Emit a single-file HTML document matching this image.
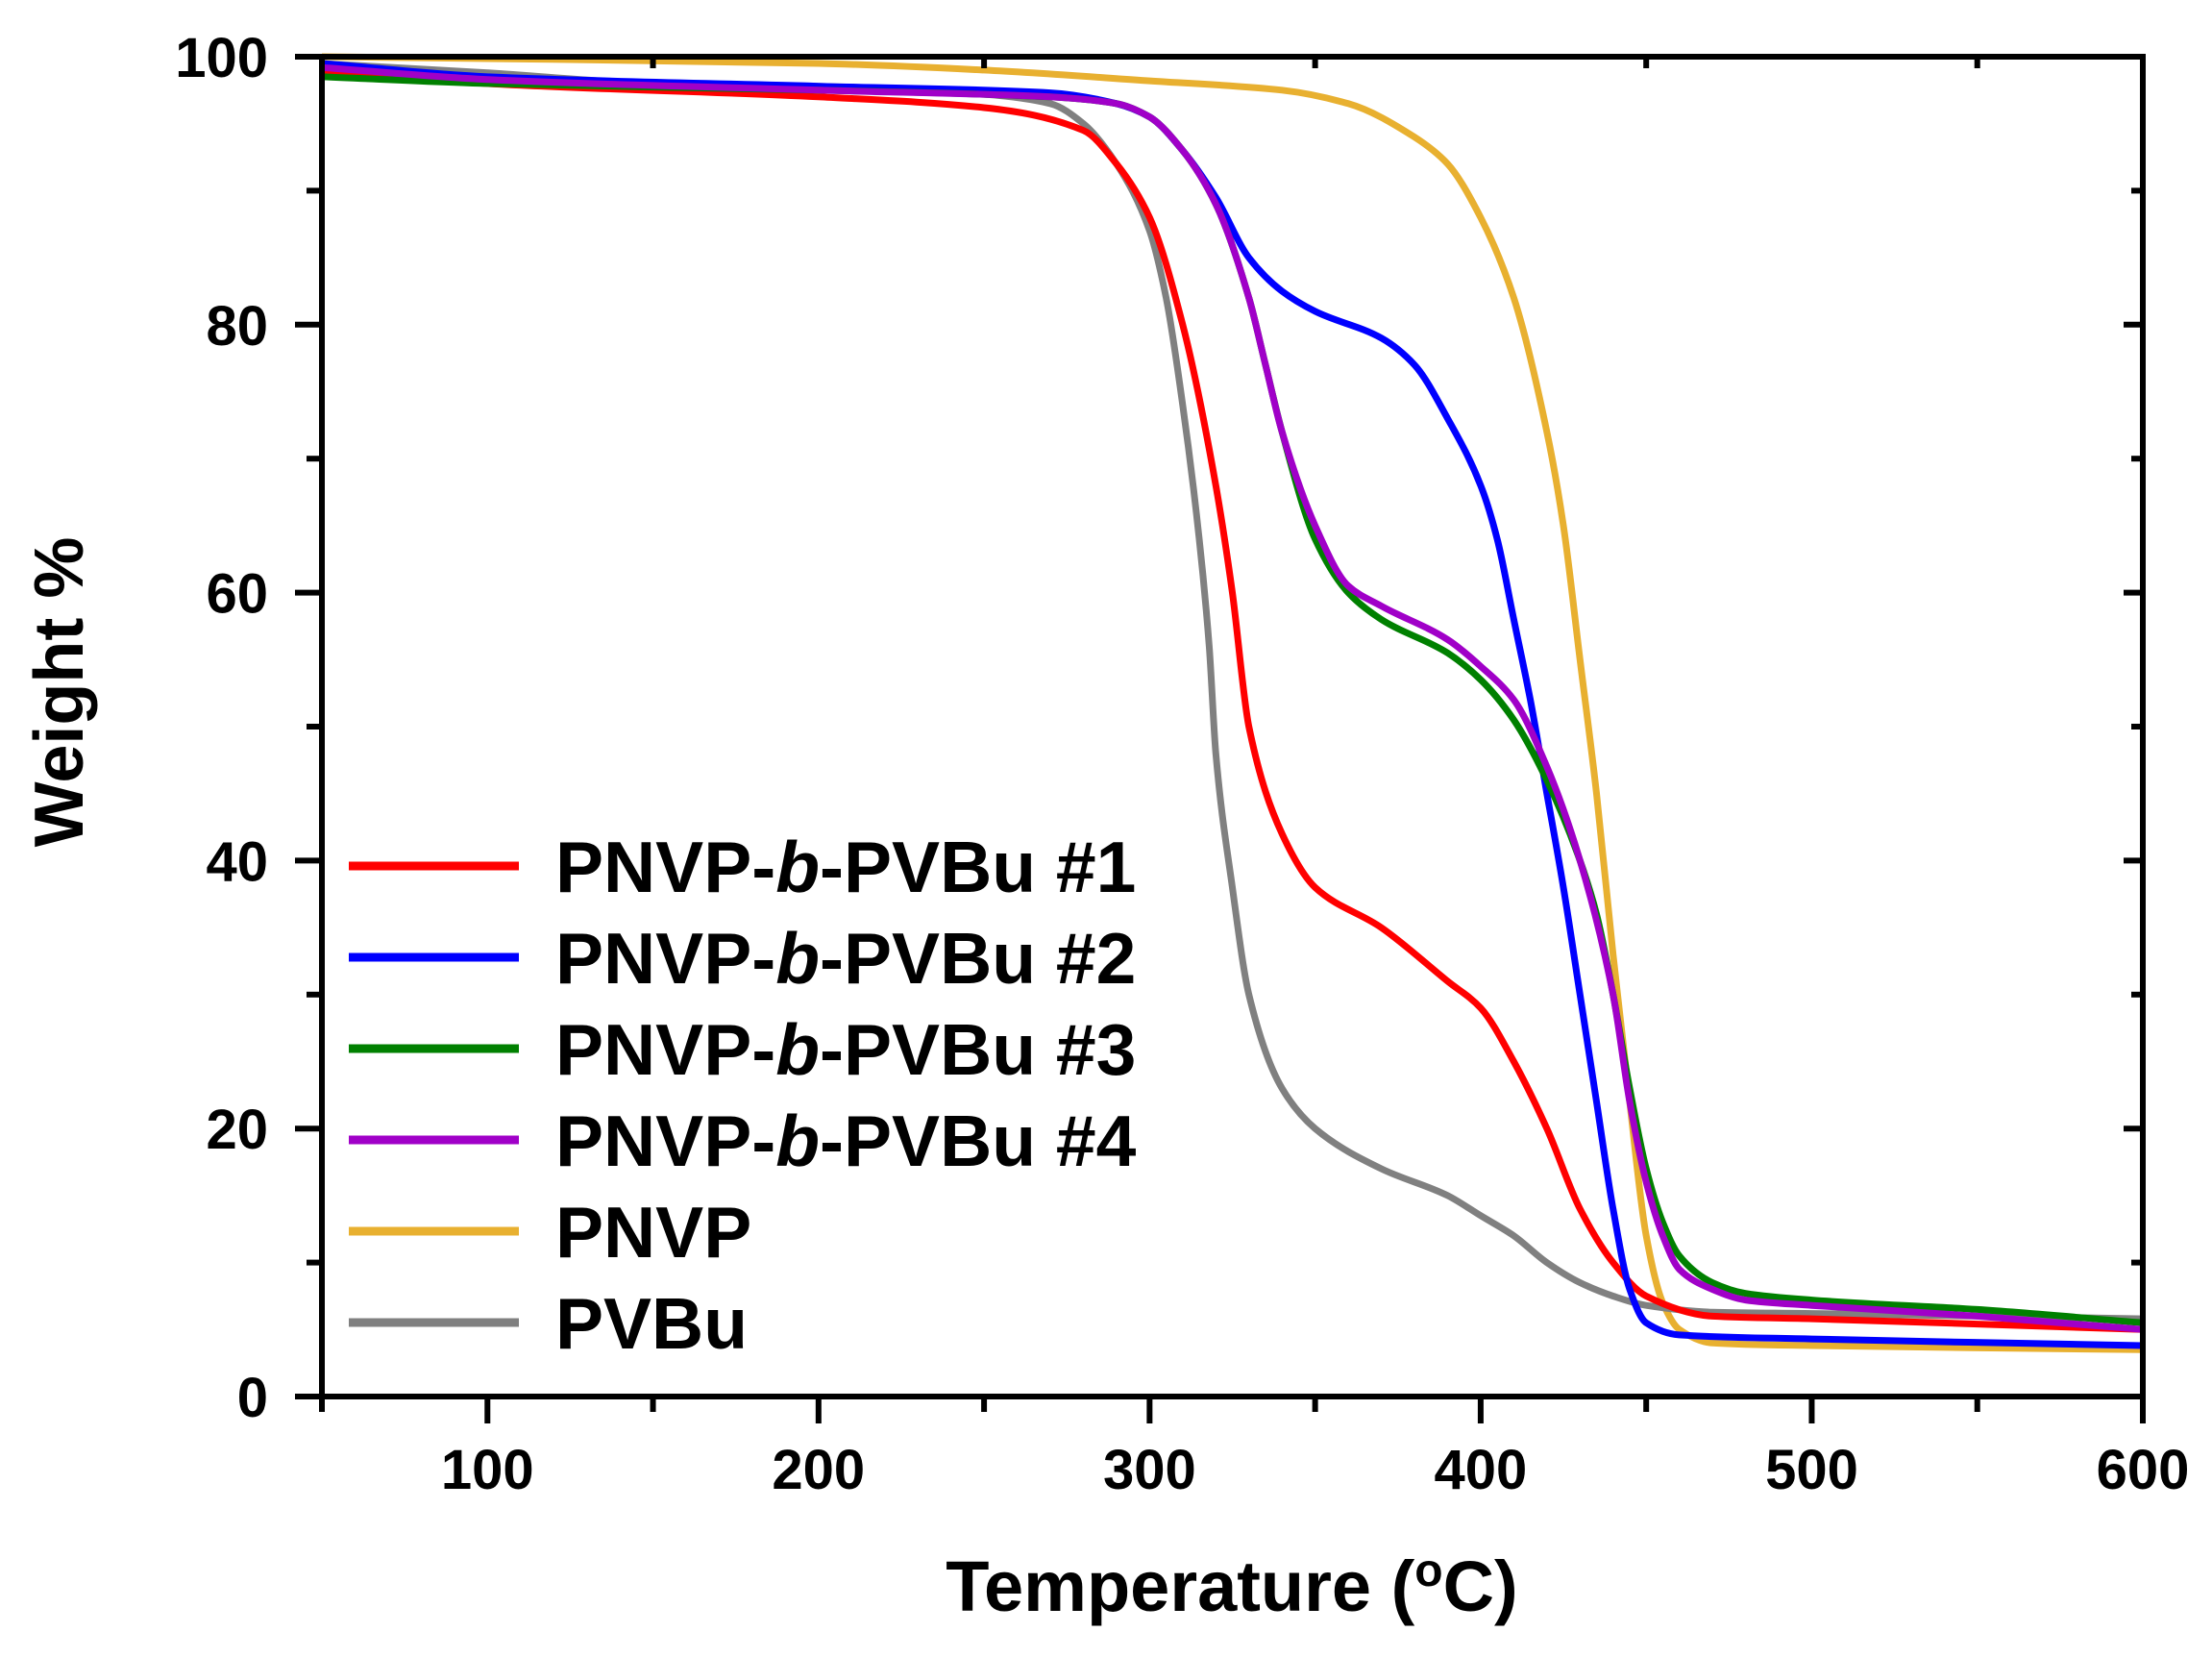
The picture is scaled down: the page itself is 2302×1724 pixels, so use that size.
<!DOCTYPE html>
<html><head><meta charset="utf-8"><style>
html,body{margin:0;padding:0;background:#fff;}
svg{display:block;font-family:"Liberation Sans",Arial,sans-serif;}
</style></head><body>
<svg id="chart" width="2302" height="1724" viewBox="0 0 2302 1724">
<g id="series"></g>
<g id="axes"></g>
<g id="legend"></g>
<text x="1282" y="1676" font-size="74" font-weight="bold" text-anchor="middle">Temperature (<tspan baseline-shift="super" font-size="48">o</tspan>C)</text>
<text transform="translate(86,720) rotate(-90)" font-size="72" font-weight="bold" text-anchor="middle">Weight %</text>
</svg>
<script>
const xTicks=[100,200,300,400,500,600];
const yTicks=[0,20,40,60,80,100];
const seriesNames=["PNVP-b-PVBu #1","PNVP-b-PVBu #2","PNVP-b-PVBu #3","PNVP-b-PVBu #4","PNVP","PVBu"];
const seriesColors=["#ff0000","#0000ff","#008000","#a000c8","#e8b030","#808080"];
const t1=[50,100,200,250,280,290,300,310,320,325,330,340,350,370,390,400,410,420,430,440,450,470,500,600];
const w1=[99,98,97,96.2,94.5,92,88,80,68,60,50,42,38,35,31,29,25,20,14,10,7.5,6,5.8,5];
const t2=[50,100,200,270,290,300,310,320,330,340,350,370,380,390,400,405,410,415,420,425,430,435,440,445,450,460,500,600];
const w2=[99.5,98.5,97.8,97.3,96.5,95.5,93,89.5,85,82.5,81,79,77,73,68,64,58,52,45,38,30,22,14,8,5.5,4.6,4.3,3.8];
const t3=[50,100,200,270,290,300,310,320,330,335,340,350,360,370,390,400,410,420,430,435,440,445,450,455,460,470,480,500,550,600];
const w3=[98.5,98,97.5,97,96.5,95.5,93,89,82,77,72,64,60,58,55.5,53.5,50.5,46,40,36,30,23,17,13,10.5,8.5,7.7,7.2,6.5,5.5];
const t4=[50,100,200,270,290,300,310,320,330,335,340,350,360,370,390,400,410,420,430,440,445,450,455,460,470,480,500,550,600];
const w4=[99.2,98.3,97.5,97,96.5,95.5,93,89,82,77,72,65,60.5,59,56.5,54.5,52,47,40,30,22,16,12,9.5,8,7.2,6.8,6,5];
const t5=[50,200,250,300,340,360,380,390,400,410,420,425,430,435,440,445,450,455,460,470,500,600];
const w5=[100,99.5,99,98.2,97.5,96.5,94,92,88,82,72,65,55,45,33,22,12,7,5,4,3.8,3.5];
const t6=[50,100,150,200,250,270,280,290,300,305,310,315,318,320,325,330,340,350,370,390,400,410,420,430,440,450,470,500,600];
const w6=[99.5,98.8,98,97.8,97.2,96.5,95,92,87,82,74,64,56,48,38,30,23,20,17,15,13.5,12,10,8.5,7.5,6.8,6.3,6.2,5.8];
const temps=[t1,t2,t3,t4,t5,t6];
const weights=[w1,w2,w3,w4,w5,w6];

const L=335,R=2230,T=59,B=1453,X0=50,X1=600,Y0=0,Y1=100;
const sx=t=>L+(t-X0)*(R-L)/(X1-X0);
const sy=v=>B-(v-Y0)*(B-T)/(Y1-Y0);
const NS="http://www.w3.org/2000/svg";
function mk(tag,attrs,parent){const e=document.createElementNS(NS,tag);for(const k in attrs)e.setAttribute(k,attrs[k]);parent.appendChild(e);return e;}

function monoPath(xs,ys){
  const n=xs.length,d=[],m=new Array(n);
  for(let i=0;i<n-1;i++)d.push((ys[i+1]-ys[i])/(xs[i+1]-xs[i]));
  m[0]=d[0];m[n-1]=d[n-2];
  for(let i=1;i<n-1;i++){
    if(d[i-1]*d[i]<=0)m[i]=0;
    else{const w1=2*(xs[i+1]-xs[i])+(xs[i]-xs[i-1]),w2=(xs[i+1]-xs[i])+2*(xs[i]-xs[i-1]);m[i]=(w1+w2)/(w1/d[i-1]+w2/d[i]);}
  }
  let p='M'+xs[0].toFixed(1)+','+ys[0].toFixed(1);
  for(let i=0;i<n-1;i++){
    const h=(xs[i+1]-xs[i])/3;
    p+='C'+(xs[i]+h).toFixed(1)+','+(ys[i]+m[i]*h).toFixed(1)+' '+(xs[i+1]-h).toFixed(1)+','+(ys[i+1]-m[i+1]*h).toFixed(1)+' '+xs[i+1].toFixed(1)+','+ys[i+1].toFixed(1);
  }
  return p;
}

const sg=document.getElementById('series');
const order=[4,5,0,1,2,3];
order.forEach(i=>{
  const d=monoPath(temps[i].map(sx),weights[i].map(sy));
  const p=mk('path',{d:d,fill:'none',stroke:seriesColors[i],'stroke-width':7,'stroke-linejoin':'round'},sg);
  
  
});

const ax=document.getElementById('axes');
const fr=mk('rect',{x:L,y:T,width:R-L,height:B-T,fill:'none',stroke:'#000','stroke-width':6},ax);


for(let t=50;t<=600;t+=50){
  const major=t%100===0;
  const x=sx(t);
  const tk=mk('line',{x1:x,y1:B,x2:x,y2:B+(major?28:16),stroke:'#000','stroke-width':6},ax);
  
  
  const tt=mk('line',{x1:x,y1:T,x2:x,y2:T+(major?0:12),stroke:'#000','stroke-width':6},ax);
  
  
}
xTicks.forEach(t=>{
  const tx=mk('text',{x:sx(t),y:B+96,'font-size':58,'text-anchor':'middle','font-weight':'bold'},ax);
  tx.textContent=t;
  
  
});
for(let v=0;v<=100;v+=10){
  const major=v%20===0;
  const y=sy(v);
  const tk=mk('line',{x1:L-(major?28:16),y1:y,x2:L,y2:y,stroke:'#000','stroke-width':6},ax);
  
  
  const tr=mk('line',{x1:R-(major?20:12),y1:y,x2:R,y2:y,stroke:'#000','stroke-width':6},ax);
  
  
}
yTicks.forEach(v=>{
  const tx=mk('text',{x:L-56,y:sy(v)+21,'font-size':58,'text-anchor':'end','font-weight':'bold'},ax);
  tx.textContent=v;
  
  
});

const lg=document.getElementById('legend');
seriesNames.forEach((n,i)=>{
  const y=901+i*95;
  const ln=mk('line',{x1:363,y1:y,x2:540,y2:y,stroke:seriesColors[i],'stroke-width':9},lg);
  
  
  const tx=mk('text',{x:578,y:y+27,'font-size':75,'font-weight':'bold'},lg);
  if(n.indexOf('-b-')>=0){
    const parts=n.split('-b-');
    tx.appendChild(document.createTextNode(parts[0]+'-'));
    const it=mk('tspan',{'font-style':'italic'},tx);it.textContent='b';
    tx.appendChild(document.createTextNode('-'+parts[1]));
  } else tx.textContent=n;
  
  
});
</script>
</body></html>
